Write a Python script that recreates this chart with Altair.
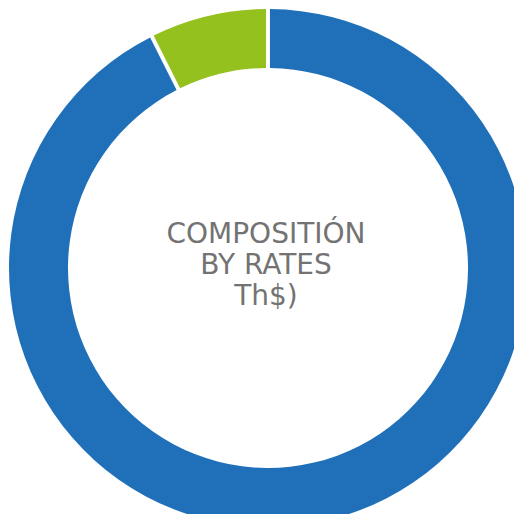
import altair as alt
import pandas as pd

categories = ["Rate A", "Rate B"]
values = [92.6, 7.4]
colors = ["#1F70B8", "#95C11F"]
title_lines = ["COMPOSITIÓN", "BY RATES", "Th$)"]

df = pd.DataFrame({"category": categories, "value": values, "order": [0, 1]})

arcs = alt.Chart(df).mark_arc(outerRadius=259, innerRadius=200, padAngle=0.012).encode(
    theta=alt.Theta("value:Q", stack=True),
    order=alt.Order("order:Q"),
    color=alt.Color("category:N", scale=alt.Scale(domain=categories, range=colors), legend=None),
    x=alt.value(260),
    y=alt.value(260),
)

label = alt.Chart(pd.DataFrame({"t": ["\n".join(title_lines)]})).mark_text(
    font="DejaVu Sans", fontSize=28, color="#737373", lineBreak="\n", lineHeight=31,
    align="center", baseline="alphabetic",
).encode(text="t:N", x=alt.value(258), y=alt.value(235))

chart = alt.layer(arcs, label).properties(
    width=506, height=506, autosize=alt.AutoSizeParams(type="none"), padding=0
).configure_view(stroke=None)

chart.save("out.html", embed_options={"renderer": "svg", "actions": False})
